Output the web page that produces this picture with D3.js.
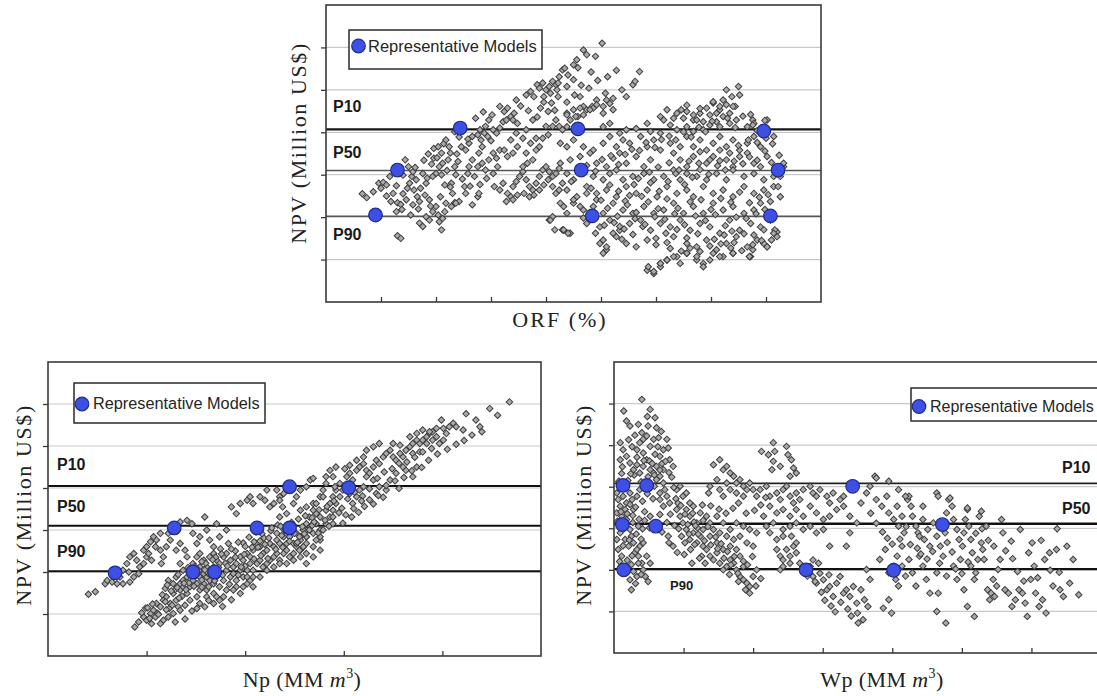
<!DOCTYPE html>
<html>
<head>
<meta charset="utf-8">
<script src="https://d3js.org/d3.v7.min.js"></script>
<style>
  body { margin: 0; background: #fff; }
  svg text { font-family: Arial, "Liberation Sans", sans-serif; }
  .serif { font-family: "Liberation Serif", "DejaVu Serif", serif; }
</style>
</head>
<body>
<div id="container"></div>
<script>
var width = 1097, height = 696;

// shared
var gridValues = [10, 20, 30, 40, 50, 60];
var pNames = ["P10", "P50", "P90"];
var legendText = "Representative Models";

// ---- ORF panel (top) ----
var orfTicks = [5, 10, 15, 20, 25, 30, 35, 40];
var orfLevels = [40.7, 31.0, 20.2];
var orfModels = [[12.2,41.0],[22.9,40.8],[39.8,40.3],[6.5,31.1],[23.2,31.1],[41.1,31.1],[4.5,20.5],[24.2,20.3],[40.4,20.3]];
var orfRuns = [
[3.3,25.5],[3.7,24.6],[4.8,28],[5.2,28.2],[5.5,27.6],[5.8,29.6],[5,26.8],[6.1,25.6],[5.9,23.7],[6.5,23.4],[6.4,21.3],[6.8,23],[7.3,24.1],[7,25.5],[7.4,26.8],[7.6,28],[7.8,29.6],[7.5,31.9],[7.2,33.5],[7.9,30.7],[8.2,28.8],[8,26.4],[8.3,24.8],[7.9,22.9],[8.5,23.7],[8.6,26.8],[9.1,28],[9,25.2],[9.4,24.1],[8.8,30.3],[9.2,29.2],[9.6,32.5],[9.8,33.9],[9.8,36.2],[10.2,36.6],[10.5,35.1],[10.7,37.3],[10.9,38.2],[11.2,36.6],[11.3,35.1],[11.1,33.5],[10.6,32.7],[10.3,31.9],[10,30.3],[9.7,29.6],[10.5,30],[10.8,27.6],[11.4,28],[11.5,25.6],[11.7,23.4],[12.1,23.7],[12.7,25.6],[12.6,27.2],[11.8,30],[11.7,31.9],[12,33.1],[12.3,36.6],[12.7,35.8],[13,37.4],[13.3,39],[13.8,39.4],[14.1,38.2],[14.4,39.8],[14.5,41.4],[14.8,42.9],[15.2,40.6],[15.5,39.8],[15.8,41],[16.1,42.5],[14.7,39],[14.2,36.6],[13.9,35.1],[13.3,33.5],[13,31.9],[12.9,30.3],[13.5,29.6],[13.8,31.9],[14.2,32.7],[14.5,31.1],[14.8,33.5],[15.2,35.1],[15.5,33.9],[15.8,35.8],[15.6,31.9],[15.2,30.3],[15.3,27.2],[15.8,26.4],[16.1,28],[16.5,25.6],[16.4,23.7],[16.8,24.8],[17,27.2],[17.3,28.4],[17.6,29.6],[17.9,30.7],[18.2,28.8],[18.5,27.2],[18.8,26.4],[19.1,28],[19.4,29.6],[19.7,31.1],[20,31.9],[20.3,30.7],[20.6,29.6],[20.9,30.3],[21.2,31.5],[17,24.1],[17.4,25.2],[18,25.6],[18.5,24.8],[18.9,25.2],[19.4,26.4],[19.8,27.6],[20.2,28.8],[20.6,27.2],[20.9,25.6],[21.2,26.4],[21.5,28],
[15.8,46.1],[16.2,44.9],[16.5,45.7],[16.8,43.7],[17,42.9],[17.1,44.5],[17.3,47.6],[17.4,42.1],[16.4,42.9],[18.2,48.8],[18.6,49.6],[18.9,48.4],[19.2,51.2],[19.4,50.4],[19.7,51.6],[20,50],[20.3,50.8],[19.5,45.7],[19.8,48.4],[20.6,52],[20.9,51.2],[21.2,53.1],[21.5,54.7],[21.1,48.4],[20.5,46.9],[20.2,44.9],[20.9,42.9],[20.6,41.4],[21.2,41.4],[21.5,40.6],[20.2,39.4],[19.7,38.6],[19.4,36.6],[19.1,35.8],[18.8,33.5],[18.3,32.7],[17.9,31.9],[18.2,35.1],[18.6,37.4],[19.1,38.6],[20,41.4],[18.8,42.9],[18.2,40.6],[17.9,38.6],[17.4,36.6],[17,35.1],[16.5,34.3],[16.2,35.8],[16.8,38.2],[17.3,39.8],
[6.5,15.6],[6.8,15],[8.5,18.6],[8.8,17.8],[9.1,20.1],[9.4,19.3],[9.7,21.3],[10,22.5],[10.2,20.5],[10.3,18.9],[10.5,17],[10.6,19.7],[10.8,21.3],[10.9,23.3],[11.4,22.5],[11.8,23.3],[13.3,22.9],[13.8,24.8],[13.9,25.6],[20.3,19.3],[20.6,20.1],[20.8,17],[21.5,17],
[23.4,59.4],[25.1,61],[24.5,57.9],[23.7,58.3],[22.8,57.1],[22.5,55.9],[21.7,55.1],[22,53.5],[22.5,52.4],[21.9,50.8],[21.1,51.6],[21,50],[20.4,49.2],
[28.5,54.3],[27.9,51.2],[28.1,52],[26.9,50],[27.3,48.4],[26.1,48],[25.5,47.6],[25.4,49.2],[24.6,47.6],[24.2,46.1],[25.2,46.1],[26.1,45.3],[23.7,45.3],[23.4,44.1],[22.9,43.7],[22.5,45.3],[22.2,42.9],[21.9,44.5],
[37.5,50.8],[37.6,48.8],[36.4,50],[36.9,48.4],[37.2,46.1],[36.1,47.6],[35.8,45.3],[35.2,46.9],[34.9,44.1],[34,44.5],[35.5,44.5],[32.8,44.9],[32.3,45.3],[31.6,43.3],[33.4,42.9],[34.3,42.5],[36.7,44.5],[38.8,42.9],
[23.4,46.1],[24.3,45.7],[25.2,44.5],[25.8,46.8],[30.4,43.7],[31,45.3],[31.9,44.5],[32.8,46.4],[33.4,44.1],[34,45.6],[34.6,45.7],[35.2,47.2],[35.8,46.1],[36.4,46.5],[37,46.1],[21.9,44.1],[22.7,43.7],[23.1,45.7],[24,45.3],[24.6,46.5],
[21.9,41.3],[25.2,41.3],[25.8,42.1],[26.7,39.8],[27.3,40.6],[28.2,40.9],[29.2,42.1],[29.5,40.2],[30.4,39.8],[30.7,42.9],[31.3,41.7],[31.9,40.6],[32.5,43.3],[32.8,41.3],[33.4,40.2],[33.7,42.9],[34.3,40.6],[34.9,41.7],[35.5,42.5],[36.1,43.7],[36.7,42.1],[37.3,42.9],[38.3,41.3],[38.9,42.1],[40.1,42.9],
[21.3,37.4],[21.9,36.6],[22.5,38.2],[23.4,36.6],[24.3,35.8],[25.2,37.4],[25.8,39],[26.4,36.6],[27,38.2],[27.6,37.4],[28.6,39],[29.2,36.6],[29.8,38.2],[30.4,35.8],[31.3,37.4],[32.2,36.6],[32.8,39],[33.4,36.6],[34,38.2],[34.6,35.8],[35.2,37.4],[35.8,39],[36.4,36.6],[37,38.2],[37.6,35.8],[38.3,37.4],[38.9,39],[39.5,36.6],[40.7,39],
[21.3,32.7],[22.2,33.5],[23.1,34.3],[24,35.1],[24.6,32.7],[25.5,31.9],[26.1,33.9],[26.7,35.1],[27.3,32.7],[28.2,34.3],[28.9,31.9],[29.5,33.5],[31.6,35.1],[32.2,33.5],[32.8,31.9],[33.4,34.3],[34,35.4],[34.6,32.7],[35.2,34.3],[35.8,35.8],[36.4,33.5],[37,31.9],[37.6,34.3],[38.3,35.1],[38.9,32.7],[39.5,31.9],[40.1,34.3],
[21.9,30.3],[22.5,28.8],[24.3,29.6],[25.2,28.8],[25.8,30.3],[26.4,31.1],[27,28.8],[27.9,29.6],[28.9,30.3],[29.8,28.8],[30.7,29.6],[31.6,31.1],[32.2,28.8],[32.8,30.3],[33.7,29.6],[34.6,28.8],[35.5,30.3],[36.4,28.8],[37,31.1],[38,29.6],[38.9,30.3],[39.8,28.8],[40.7,29.6],[41.6,31.9],
[21.9,26.4],[22.8,24.8],[23.7,27.2],[24.6,25.6],[25.5,26.4],[26.4,24.8],[27.3,27.2],[28.2,25.6],[29.2,26.4],[30.1,24.8],[31,27.2],[31.9,25.6],[32.8,26.4],[33.4,24.8],[34.3,27.2],[35.2,25.6],[36.1,26.4],[37,24.8],[38,27.2],[38.9,25.6],[39.8,26.4],[40.7,27.2],[41.3,24.8],
[21.6,22.5],[22.5,23.3],[23.4,21.7],[24.3,22.5],[25.2,20.9],[26.1,23.3],[27,21.7],[27.9,20.9],[28.9,22.5],[29.8,20.9],[30.7,21.7],[31.6,23.3],[32.5,20.9],[33.4,22.5],[34.3,20.9],[35.2,23.3],[36.1,21.7],[37,22.5],[38,20.9],[38.9,21.7],[39.5,23.3],
[21.6,16.9],[22.2,16.2],[23.7,18.5],[24.9,17.7],[25.8,19.3],[26.7,16.9],[27.6,18.5],[28.6,19.3],[29.5,16.9],[30.4,18.5],[31.3,17.7],[32.2,19.3],[33.1,16.9],[34,18.5],[34.9,17.7],[35.8,16.2],[36.7,19.3],[37.6,16.9],[38.6,18.5],[39.5,17.7],[40.4,19.3],[41,16.5],
[24.9,13.8],[25.5,12.3],[26.4,15.4],[27.3,13.8],[28.2,13],[29.2,14.6],[31.6,15.4],[32.8,13.8],[33.7,13],[34.6,14.6],[35.5,12.3],[36.4,13.8],[37.3,15.4],[38.3,13],[39.2,14.6],[40.1,13],[41,15.4],
[25.2,11.5],[30.4,9.1],[31,9.9],[31.9,10.7],[32.8,11.5],[33.7,9.9],[34.3,9.1],[35.2,11.5],[36.1,10.7],[37,11.5],[38.6,10.7],[29.2,7.5],[29.8,6.7],[30.4,8.3],
[41.6,32.7],[41.3,29.6],[41.1,27.2],[40.4,23.7],[40.8,17],[40.5,14.6],[40.1,13],[39.8,17],[38.5,10.7],[39.9,42.8],[38.8,41.7],
[29.3,8.3],[29.8,7.2],[30.4,9.1],[31,9.9],[31.6,10.7],[32.2,9.1],[32.8,11.5],[33.7,10.7],[34.3,8.3],[34.9,9.9],[35.8,10.7],[37,11.5],[38.5,10.7],[38.8,12.3],[39.8,13.8],[40.7,16.2],
[20.4,19.3],[21.6,17],[22,16.2],[21.3,23.3],[21.9,20.9],[22.5,24.1],[23.1,22.5],[23.7,25.6],[24.6,24.1],[25.2,14.6],[25.5,13],[26.1,16.2],[26.7,17.8],
[22.3,28.4],[23,30.9],[23.7,32.2],[24.5,30.8],[25.1,33.6],[25.9,34.5],[26.6,32.4],[27.2,34.8],[27.8,36],[28.5,35.7],[29.1,37.6],[29.9,36.4],[30.5,38.3],[31.2,39.1],[31.8,38.2],[32.5,40.1],[33.2,38.9],[33.9,41.2],[34.5,40.1],[35.1,42.6],[35.8,41.3],[36.5,43.3],[37.2,41.1],[37.9,43.8],[38.6,44.2],[39.2,40.4],
[24.1,26.8],[25,24],[25.8,27.6],[26.6,26.1],[27.2,23.8],[28,27.7],[28.7,24.9],[29.5,28.1],[30.3,26.1],[31.1,28.4],[31.8,30.3],[32.6,27.7],[33.3,29.4],[34,31.2],[34.8,30.1],[35.6,32.1],[36.3,31.1],[37.1,33.2],[37.9,32.6],[38.5,34.2],[39.2,33.4],[39.9,35.6],[40.5,32.9],[41.2,34.6],
[23.4,19.8],[24.4,20.4],[25.6,22.1],[26.5,20.2],[27.4,22.9],[28.2,21.1],[29.3,23.6],[30.2,22],[31,24.3],[32,22.1],[33.1,23.6],[34.1,24.1],[35,21.8],[35.9,24.4],[36.8,23.5],[37.6,25.9],[38.5,23.4],[39.4,24.7],[40.2,25.3],
[26.9,14.8],[27.9,15.9],[28.8,17.8],[30,15],[30.9,16.2],[31.9,17.1],[32.8,15.1],[33.8,16.1],[35.3,14.8],[36.2,15.8],[37.1,14],[38,16.1],[38.9,15.8],[39.6,14.5],[31.3,12.6],[32.3,12],[33.1,12.7],[34.9,13.2],[36.8,12.7],[37.8,12.1],
[23.1,48.4],[23.9,50.4],[24.7,52.2],[25.6,53.1],[26.4,54.6],[24.1,54.2],[22.9,55.2],[23.2,51.1],[21.9,47.1],[22.6,48.8],[20.8,45.2],[19.2,43.6],[18.4,45.1],[17.7,46.2],[19.8,47.1],[15,38],[14,40.6],[12.9,38.4],[12.1,38.9],[11.7,40.1],[13.6,43.3],[15.1,44.1],[14.3,44.8],
[24.5,16.2],[25.3,18.1],[26.2,18.7],[27.1,17.2],[28.1,19.6],[29,18.3],[29.9,20.1],[30.8,19.5],[31.7,20.8],[32.6,18.2],[33.6,20.3],[34.5,19.2],[35.4,20.6],[36.3,18],[37.3,20],[38.2,19.7],[39.1,20.8],[39.9,21.8],[27.6,25.1],[28.4,29.1],[29.4,30.6],[30.2,31.8],[31.2,32.8],[32.1,31.1],[33,33.2],[33.9,32.7],[34.9,33.5],[35.8,33.3],[36.7,35.1],[37.5,36.9],[38.4,38.2],[39.2,37.6],[40,38.6],[40.6,37.3],[30,13.5],[31,14],[34,11.9],[35.9,13.7],[36.9,16.7],[38.8,13.5],
[4.3,26],[5.5,25],[6.4,27.4],[7,29.9],[8.1,31.7],[8.9,33.4],[9.3,34.9],[10.1,34],[11,31],[11.9,34.9],[6.9,21.8],[7.7,20.5],[8.4,21.9],[9.5,22.6],[10.4,24.8],[11.3,27.1],[12.4,29],[13.1,27.3],[14,27.7],[14.6,29.1]
];

// ---- Np panel (bottom left) ----
var npTicks = [10, 20, 30, 40];
var npLevels = [40.5, 31.0, 20.2];
var npModels = [[6.8,19.8],[12.8,30.5],[14.7,20.0],[16.9,20.0],[21.2,30.5],[24.5,30.5],[24.5,40.3],[30.5,40.1]];
var npRuns = [
[4.1,14.7],[4.8,15.3],[5.8,17.2],[6,18],[6.6,18.8],[7,19.2],[7.6,20.4],[8,22],[8.3,23.6],[8.7,24.4],[9,22.8],[9.3,21.2],[9.2,19.6],[9.7,25.2],[10,26],[10.4,27.2],[10.7,28.4],[11,27.6],[11.4,25.2],[11.7,23.6],[11.5,22],[12,26],[12.4,27.6],[12.2,29.2],[11.4,29.2],[10.9,26],[10,23.6],[9.7,22],[8.7,18.8],[8.3,17.6],[7.6,17.2],[7.3,18.8],[7,17.2],[6.5,17.6],[8.2,20],[10.2,24.4],[10.5,22.8],
[13.4,31.9],[14.1,32.3],[14.6,31.5],[14.7,29.2],[15.1,26.8],[15.4,28.4],[15.9,33.1],[16.1,30],[16.4,27.6],[16.8,26],[17.1,31.5],[17.4,28.4],[18.1,30],[18.6,35.5],[19.1,33.9],[19.5,36.3],[20.2,37.1],[20.5,37.9],[20.8,36.3],[21.5,37.9],[22,37.1],[22.2,39.5],[22.5,35.5],[22.9,36.3],[23.2,39.5],[23.5,37.9],[23.9,38.7],[25.2,37.9],[25.6,39.5],[26.2,40.3],[26.6,41.9],[26.9,42.3],[24.9,36.3],[25.6,34.7],[26.2,35.5],[26.9,36.3],[27.2,33.9],[26.9,31.5],[26.2,30],[25.6,28.4],
[8.8,6.9],[9.2,8.1],[9.7,9.3],[10,8.5],[10.4,10.1],[10.7,10.9],[11,12.5],[11.4,11.7],[10.9,9.3],[11.7,13.3],[12,14.1],[12.4,12.5],[12.7,14.9],[13,13.3],[13.4,15.7],[13.7,16.5],[13.2,11.7],[12.7,10.1],[12.2,9.3],[11.7,8.5],[11.4,7.7],[10.5,7.7],[14.1,14.9],[14.4,16.5],[14.7,18],[15.1,17.2],[15.4,18.8],[15.8,17.2],[16.1,15.7],[16.4,18],[16.8,17.2],[17.1,18.8],[17.4,16.5],[17.8,18],[15.4,15.7],[15.1,14.1],[14.4,13.3],[13.9,12.1],[13.4,10.9],
[14.7,22],[15.1,23.6],[15.4,24.4],[15.8,22.8],[16.1,21.2],[16.4,23.6],[16.8,24.4],[17.1,22.8],[17.4,22],[17.8,23.6],[18.1,24.4],[18.5,22.8],[18.8,21.2],[19.1,22],[19.5,23.6],[19.8,22.8],[20.2,24.4],[20.5,23.6],[20.8,25.2],[21.2,26.8],[21.5,26],[21.8,24.4],[22.2,25.2],[22.5,26.8],[22.9,26],[23.2,27.6],[23.5,26.8],[23.9,28.4],[24.2,26.8],[24.5,28.4],[24.9,26.8],[25.2,29.2],[25.6,27.6],[25.9,30],[26.2,28.4],[26.6,30.7],[26.9,29.2],[27.2,31.5],[27.6,30],
[18.1,20.4],[18.5,18.8],[18.8,19.6],[19.1,18],[19.5,20.4],[19.8,18.8],[20.2,20.4],[20.5,22],[20.8,20.4],[21.2,22],[21.5,22.8],[21.8,21.2],[22.2,22],[22.5,22.8],[22.9,23.6],[23.2,24.4],[23.5,22.8],[23.9,24.4],[24.2,25.2],[24.5,23.6],[24.9,24.4],[25.2,26],[25.6,25.2],[25.9,26],[26.2,26.8],
[14.4,20.4],[14.1,18.8],[13.7,18],[15.4,21.2],[15.8,19.6],[16.4,20.4],[16.8,21.2],[17.1,20.4],[17.4,19.6],[16.1,18.8],[19.1,16.5],[19.5,14.9],[19.8,16.5],[20.2,17.2],[20.5,18],[20.8,16.5],[18.8,15.7],[17.8,14.1],[18.1,15.7],[17.4,13.3],[16.8,12.5],[16.1,14.1],[15.9,11.7],[15.4,12.5],[15.1,11.3],[16.3,16.5],[16.8,14.9],[17.1,14.1],
[20.2,18.8],[20.8,18.8],[21.5,18.8],[22.2,20.4],[22.9,21.2],[23.5,22],[24.2,22],[24.9,22.8],[25.6,23.6],[26.2,24.4],[26.9,26],[27.6,27.6],[26.9,23.6],[26.2,22],[27.6,25.2],
[13,25.2],[13.4,26.8],[13.9,25.2],[14.1,23.6],[13.4,22],[13.7,20.4],[13,18.8],[12.7,17.2],[13.4,17.2],
[23.5,37.1],[23.8,35.5],[24.2,33.9],[23.5,33.1],[24,30.7],[24.5,28.4],[25,29.2],[25.5,28.4],[25.2,26.8],[25.9,30],[26.2,31.5],[26.5,33.1],[26.9,34.7],[27.2,36.3],[27.6,37.9],[27.9,39.5],[28.2,41.1],[26.9,31.5],[27.6,33.1],[28.2,34.7],[28.6,36.3],[28.9,37.9],[29.2,39.5],[29.6,41.1],[30.3,42.7],[30.6,43.5],[30.9,41.9],[31.3,44.2],[31.6,45],[32,45.8],[32.3,44.2],[32.6,43.5],[33,45],[33.3,46.6],[33.6,45.8],[34,47.4],[34.3,48.2],[34.7,49],[35,47.4],[35.3,46.6],[35.7,48.2],[36,47.4],[36.3,49],[36.7,49.8],[37,50.6],[37.4,51.4],[37.7,50.6],[38,51.4],[38.4,52.2],[38.7,53],[39,51.4],[39.4,52.2],[39.7,50.6],[40.1,51.4],[40.4,53],[40.7,54.6],[41.1,55.4],[41.4,54.6],[42.1,53.8],[42.4,57.7],[43.4,56.2],[43.8,54.6],[44.8,58.9],[45.6,57.3],[46.8,60.5],[39.9,56.2],[40.1,54.2],[39,53.4],[38.4,50.6],[37.7,48.6],[37,48.2],[37.4,45],[37,42.7],[36.3,44.2],[36,45],[35.3,43.5],[34.7,41.9],[34.3,39.5],[33.6,40.3],[33.3,38.7],[33,41.9],[32.3,42.7],[32,40.3],[31.6,39.5],[31.3,37.9],[30.9,36.3],[30.6,38.7],[29.9,39.5],[29.6,37.9],[29.2,36.3],[28.9,34.7],[28.6,33.1],[28.2,31.5],[27.9,30],[27.6,28.4],[27.2,27.6],[26.5,30],[26.2,28.4],[25.9,26],[25.5,25.2],[28.9,31.5],[29.1,40.3],[28.6,44.2],[29.2,45],[30.1,44.6],[30.6,45.4],[31.3,46.6],[32,47.4],[32.3,49],[33,49.8],[33.6,50.6],[35,50.6],[35.7,50.2],[36.7,52.2],[37.4,53],[38,53.8],[38.7,53.4],[39.4,54.2],[28.2,42.7],[28.9,42.7],[27.9,37.9],
[17.5,25.5],[18.3,26.8],[19,25],[19.8,26.9],[20.4,28.3],[21.1,29.5],[21.9,28.1],[22.6,29.8],[23.3,31.2],[24,29.9],[24.7,31.8],[25.4,32.6],[26.1,33.4],[26.8,32.9],[27.5,34.8],[28.3,35.6],[29,36.9],[29.8,35.2],[30.4,37.4],[31.1,39],[31.9,38.1],[32.6,39.8],[33.4,42.3],[34.1,43.8],[34.9,44.6],[35.6,45.9],[36.4,46.2],[37.2,47.3],[38,48.6],[38.9,49.4],
[16.2,19.8],[16.9,17.9],[17.7,19.3],[18.4,17.1],[19.3,19.3],[20,21.4],[20.9,23.1],[21.6,23.9],[22.3,23.2],[23.1,25.4],[23.8,25.9],[24.5,27.3],[25.3,27.1],[26,29.1],[26.8,31.1],[27.4,29.3],[28.1,32.3],[28.9,33.1],[29.5,34.1],[30.2,33.6],[31,35.1],[31.8,36.9],[32.6,37.2],[33.5,38.2],[34.3,40.6],[35.2,41.7],[36.1,42.5],[36.9,44.1],
[12.3,11.3],[12.9,15.8],[13.6,14.2],[14.3,17.4],[15,19.1],[15.6,16.4],[14.9,21.3],[15.9,20.5],[17,23.5],[18,22.1],[19.6,21.2],[21.3,25.9],[22,26.6],[23.7,28.7],[25.8,30.8],[27,31.9],[28.5,30.9],[29.9,31.6],[30.8,33.1],[31.5,34.2],[32.1,35.6],[33,36.2],[34,37.8],[35.6,39.9],[37.9,44.9],[38.6,46.6],[39.5,48.1],[40.5,49.2],[41.4,50.4],[42.2,51.3],[43,52.6],[44,53.4],
[11.1,10.2],[10.6,12.4],[11.9,16.1],[12.2,18],[9.9,11.4],[14.6,10.7],[13.9,8.8],[12.9,8.1],[16.3,13.2],[17.7,11.8],[18.6,13.4],
[9.5,10.3],[10.3,9],[11.2,9.9],[12,11],[12.6,12.1],[13.3,13.8],[14,15.8],[14.8,16.6],[15.6,18.1],[16.4,19.4],[17.3,21.1],[18.2,21.4],[19,23.5],[19.9,24.2],[20.7,25.9],[21.5,27.4],[22.4,28.1],[23.2,29.2],[24.1,30.2],[24.9,31.2],[11.9,12.9],[12.5,15.5],[13.1,16.3],[13.8,17.3],[14.5,19.6],[15.3,20.3],[16,22.1],[16.7,22.9],[17.6,24.3],[18.6,25.5],[19.3,27.1],[20,26.1],[20.9,27.2],[21.7,29.1],[22.7,30.5],[23.6,30.9],[10.1,11.5],[11.6,14.6],[12.1,16.9],[13.2,19.4],[14.2,21.1],[15.6,22.5]
];

// ---- Wp panel (bottom right) ----
var wpTicks = [10, 20, 30, 40, 50, 60];
var wpLevels = [40.8, 31.1, 20.2];
var wpModels = [[1.3,40.3],[4.7,40.3],[34.3,40.1],[1.2,30.9],[6.0,30.5],[47.2,30.9],[1.4,20.0],[27.6,20.0],[40.2,19.9]];
var wpRuns = [
[4,61],[1.4,58.2],[1.8,55.8],[2.3,54.6],[3.5,55],[4,53],[4.2,51.4],[4.7,52.2],[3.7,50.6],[3.3,48.9],[4.2,48.1],[5.2,49.7],[5.7,51.4],[4.9,54.6],[5.2,58.6],[5.9,56.6],[6.1,54.2],[6.4,51.8],[0.9,50.6],[1.3,48.9],[0.9,46.5],[1.8,47.3],[2.3,45.7],[2.8,44.1],[3.3,45.3],[3.7,43.3],[4.2,44.9],[4.7,46.5],[5.2,44.1],[5.7,43.3],[6.1,44.9],[6.6,47.3],[7.1,48.9],[7.6,51.4],[7.8,49.3],[8,46.5],[8.5,44.9],[7.1,44.1],[6.6,42.5],[6.1,41.7],[7.1,40.9],[7.3,39.3],[6.6,38.5],[7.6,37.7],[8,36.1],[7.1,35.3],[6.6,36.9],[0.4,38.5],[0.6,36.9],[0.9,35.3],[0.4,33.7],[1.1,32.9],[1.6,34.5],[1.8,36.1],[1.3,37.7],[2.3,38.5],[3.3,37.7],[3.7,39.3],[2.3,35.7],[2.8,34.5],[1.8,32.1],[2.3,29.7],[0.9,28.9],[1.6,27.3],[2.1,25.7],[2.5,28.1],[2.8,26.5],[3,24.1],[3.5,23.3],[4,21.6],[4.2,20],[4.5,18.4],[4.9,17.2],[3.3,18.4],[2.8,19.6],[2.3,17.6],[2.5,15.2],[3.5,21.6],[3.7,25.7],[0.6,24.9],[0.4,27.3],[1.1,23.3],[4.2,26.5],[4.7,23.3],[5.2,21.6],[5.2,32.9],[7.8,28.1],[8.5,25.7],
[9,39.3],[9.5,40.1],[9.9,37.7],[10.4,38.5],[10.9,36.1],[9,34.5],[9.5,32.9],[9.9,31.3],[10.4,29.7],[9.7,28.1],[10.2,26.5],[10.9,27.3],[11.4,28.9],[11.9,26.5],[12.4,28.1],[12.8,25.7],[13.3,24.9],[13.8,23.3],[14.3,22.4],[14.8,24.1],[15.2,21.6],[15.7,20],[16.2,20.8],[16.7,22.4],[17.2,21.6],[17.6,20],[18.1,18.4],[18.6,17.6],[19.1,16.8],[19.5,16],[20,18.4],[20.5,20],[19.5,14.4],[18.6,20.8],[18.1,23.3],[17.6,24.9],[16.7,25.7],[15.7,24.9],[14.8,26.5],[13.8,28.1],[12.8,29.7],[11.9,31.3],[10.9,32.9],[10.4,34.5],[11.4,35.3],[12.4,33.7],[13.3,32.9],[13.8,31.3],[14.3,29.7],[15.2,28.9],[16.2,28.1],[17.2,27.3],[18.1,28.1],[19.1,26.5],[20,25.7],[20.5,28.9],[19.5,29.7],[18.6,30.5],[17.6,31.3],[16.7,29.7],[15.7,31.3],[14.8,32.9],[11.2,21.6],[12.6,23.3],
[14.3,45.3],[15.2,46.5],[15.7,44.1],[16.2,44.9],[16.7,43.3],[17.2,42.5],[17.6,40.9],[18.1,41.7],[18.6,40.1],[19.1,39.3],[19.5,40.9],[20,39.3],[20.5,37.7],[18.6,37.7],[17.6,38.5],[16.7,39.3],[15.7,37.7],[16.2,40.9],[15.2,39.3],[14.8,41.7],[13.8,40.1],[13.6,38.5],[17.9,36.1],
[21.2,48.5],[22.2,47.7],[22.9,50.6],[23.1,48.5],[22.9,46.1],[22.7,44.1],[24.8,49.7],[25,47.7],[25.5,46.5],[25.8,44.5],[26.2,43.3],[25.3,42.5],[23.9,44.9],
[21,39.3],[21.9,40.1],[22.4,37.7],[23.4,38.5],[23.9,36.9],[24.3,39.3],[24.8,40.1],[25.3,37.7],[25.8,36.1],[26.2,38.5],[26.7,36.9],[27.2,39.3],[28.2,40.1],[28.6,38.5],[29.1,37.7],[29.6,39.3],[30.6,37.7],[31,36.1],[31.5,38.5],[32.5,36.9],[33,37.7],
[22.4,35.3],[23.4,33.7],[24.3,34.5],[25.3,32.9],[26.2,34.5],[27.2,32.9],[28.2,35.3],[29.1,33.7],[30.1,32.1],[31,32.9],[32,34.5],[33,35.3],[33.9,32.9],[34.9,31.3],
[21.5,32.9],[22.9,31.3],[24.3,29.7],[25.3,30.5],[26.2,31.3],[27.2,29.7],[28.2,30.5],[29.1,28.9],[30.1,29.7],[31,25.7],[33.4,25.7],[33.9,28.9],[22.4,28.9],[21.9,30.5],[23.4,27.3],[24.3,28.1],[25.5,28.1],
[23.4,24.9],[23.9,23.3],[24.3,22.4],[24.8,24.9],[25.3,23.3],[25.8,25.7],[26.2,24.1],[26.7,21.6],[27.2,20],[28.2,20.8],[28.6,18.4],[29.1,16.8],[29.6,19.2],[30.1,17.6],[30.6,15.2],[31,16],[31.5,13.6],[32,16.8],[32.5,18.4],[33,14.4],[33.4,15.2],[33.9,13.6],[34.4,16],[34.9,12],[35.1,7.2],[23.9,20],[24.3,20.8],[25.3,21.6],[26.2,26.5],
[35.5,36.1],[36.3,38.5],[36.8,40.1],[37.5,42.5],[37.7,36.9],[38.5,35.3],[39.2,37.7],[39.5,33.7],[40.2,32.1],[40.7,35.3],[40.9,30.5],[41.4,32.9],[41.7,28.9],[42.2,36.9],[42.4,37.7],[42.7,35.3],[42.9,32.9],[43.4,30.5],[43.7,28.9],[43.9,28.1],[44.4,32.1],[44.6,27.3],[45.1,29.7],[45.4,25.7],[45.9,31.3],[46.4,28.1],[46.4,38.5],[46.6,14.4],[46.9,25.7],[47.3,23.3],[47.6,28.9],[47.8,33.7],[48.1,36.9],[48.3,37.3],[48.6,35.3],[48.8,32.1],[49.3,29.7],[49.6,27.3],[49.8,22.5],[50.1,25.7],[50.3,28.9],[50.5,32.1],[50.8,34.5],[51,30.5],[51.3,20.9],[51.3,27.3],[51.5,24.1],[51.8,17.7],[52,19.3],[52.3,22.5],[52.5,32.9],[52.8,26.5],[53,24.9],[53.2,22.5],[53.5,30.5],[53.7,15.2],[54,12.8],[54.2,14.4],[54.5,17.7],[54.7,13.6],[55,16.1],[55.2,20.1],[55.5,22.5],[55.7,32.1],[55.9,28.9],[56.2,15.2],[56.7,14.4],[57.2,11.2],[57.7,12.8],[58.2,15.2],[58.4,29.7],[58.7,14.4],[59.1,12],[59.4,8.8],[59.6,24.1],[59.9,17.7],[60.1,26.5],[60.4,20.9],[60.6,14.4],[61.1,11.2],[61.6,12.8],[61.9,22.5],[62.1,9.6],[62.6,24.1],[63.1,16.1],[63.6,24.9],[64.1,15.2],[64.6,13.6],[65.1,25.7],[66,22.5],[66.8,14],
[47.7,7.2],[46.4,10],[51.8,8.8],[50.8,11.2],[38.2,22.5],[39.5,19.3],[40.2,20.9],[40.5,17.7],[40.9,16.1],[41.4,20.9],[41.9,18.5],[39.5,12.8],[38.7,10.8],[39.9,9.6],[36.3,20.1],[36.8,17.7],[35.5,15.2],[36,12.8],[35,9.6],[35.8,8],[36.5,11.2],[39,24.9],[42.4,22.5],[42.9,19.3],[44.4,20.9],[44.9,17.7],[43.4,16.1],[45.4,14.4],[46.4,19.3],[47.8,18.5],[48.8,20.9],[50.3,15.2],[49.3,17.7],[41.4,25.7],[40.7,23.3],[43.9,23.3],
[37.7,42.1],[39.5,41.3],[40.9,39.3],[41.9,37.7],[44.4,35.3],[46.6,37.7],[50.8,34.9],[52.8,34.1],
[1.1,43.2],[2,41.5],[2.9,42.8],[3.9,41.2],[4.9,42.4],[5.8,40.1],[0.7,41.3],[1.5,39.6],[2.6,36.9],[3.1,35.1],[4.1,36.5],[4.8,38.3],[5.6,37.1],[4.4,34],[3.6,32.2],[2.7,31.4],[1.5,30],[2.2,27.2],[3.2,28.6],[4.1,29.9],[3.9,27.4],[1.3,25.8],[1.9,22.3],[2.6,23.4],[1.8,19.4],[3.9,18.9],[3.1,16.7],[5.1,46.2],[5.9,47.8],[6.9,45.6],[2.6,49.6],[3,52.4],[2.1,51.3],[4.8,56.9],[6.8,53.3],[7.4,46.1],[8.3,42.3],[8.9,37.1],[9.2,36],[8.1,33.4],[8.7,30.7],[9.3,29.9],[7.6,31.4],[6.6,33.3],[6.9,29.1],[7.9,26.5],[9.1,24.2],[10.1,23.7],[11,24.9],[11.6,26.1],[12.3,22.8],[13.1,21.6],[12,30.1],[12.8,31.9],[13.5,30.4],[14.6,27.9],[15.4,26.3],[16.3,24.4],[17.3,23.2],[18.6,22.1],[19.2,21.2],[19.9,23.2],[16.6,18.9],[17.9,17.2],[18.9,15.2],[20.4,16.1],[21.1,17.9],
[10.6,30.9],[11.3,33.6],[12.7,35.6],[13.9,35.4],[15.1,34.6],[16.1,33.6],[17.1,34.8],[19,33.6],[20.2,34.3],[21.1,35.6],[21.8,37.4],
[28.9,17.2],[29.8,14.6],[30.3,12.7],[31.2,11.3],[31.8,9.9],[32.6,12.2],[33.6,10.6],[34.1,8.9],[30.9,18.8],[29.4,21.6],[28.6,22.4],[27.8,18.5],
[36.9,33.6],[37.7,31.2],[38.6,29.1],[39.3,27.6],[40,26.2],[41.1,27.4],[42,30.4],[42.6,26.1],[43.6,25.2],[44.1,23.8],[45,22.6],[45.8,24.4],[46.8,21.6],[47.9,26.6],[48.6,24.3],[49.1,20.2],[50,19.1],[50.9,21.9],[52,28.8],[52.9,29.9],[53.8,27.1],[54.6,25.7],[56.3,24.6],[57.3,22.7],[58,19.6],[58.9,17.3],[60.9,18.1],[62.7,19.9],[64,19.4],[65.5,16.8],[57.1,26.9],[61.4,27.1],[63.7,29.9],
[0.5,31.7],[1,34],[1.9,33.5],[2.7,33.1],[3.5,30.5],[4.4,31.9],[5.1,30.1],[0.8,22],[1.3,20.8],[2.5,21.3],[3.3,24.9],[1.2,44.8],[2.4,43.1],[3.3,47.1],[4.3,46.3],[5.5,45.6],[6.3,49.6],[6.6,44],[5.8,42.8],[7.9,43.4],[8.6,39.8],[9.6,35.5],[10.2,33.4],[11.5,31.5],[12.1,28.6],[13,27],[13.9,26],[14.9,25.1],[15.8,22.8],[16.8,21.2],[17.8,19.2],[10.8,28.6],[11.7,30.6]
];

var svg = d3.select("#container").append("svg")
    .attr("width", width)
    .attr("height", height)
    .style("display", "block")
    .style("background", "#fff");

var panels = [
  { id: "orf", runs: orfRuns, models: orfModels, levels: orfLevels, ticks: orfTicks,
    xMax: 45, box: { l: 326, r: 821, t: 5, b: 302 },
    levelWidth: [2.3, 1.6, 1.6], levelColor: ["#151515", "#555", "#555"],
    labels: [[333, 112, 16], [333, 158, 16], [333, 240, 16]],
    legend: { x: 349, y: 30, w: 193, h: 39, cx: 358.5, cy: 46, tx: 368, ty: 52, fs: 16.5 },
    xlabel: { x: 560, y: 327, ls: 2, parts: [["ORF (%)", null]] },
    ylabel: { x: 306, y: 143 } },
  { id: "np", runs: npRuns, models: npModels, levels: npLevels, ticks: npTicks,
    xMax: 50, box: { l: 48, r: 541, t: 362, b: 656 },
    levelWidth: [2, 2, 2], levelColor: ["#111", "#111", "#111"],
    labels: [[57, 470, 16], [57, 512, 16], [57, 557, 16]],
    legend: { x: 74, y: 383, w: 191, h: 40, cx: 82, cy: 404, tx: 93, ty: 409, fs: 16.3 },
    xlabel: { x: 302, y: 687, ls: 0.4, parts: [["Np (MM ", null], ["m", "italic"], ["3", "sup"], [")", null]] },
    ylabel: { x: 31, y: 505 } },
  { id: "wp", runs: wpRuns, models: wpModels, levels: wpLevels, ticks: wpTicks,
    xMax: 70, box: { l: 614, r: 1101, t: 362, b: 653 },
    levelWidth: [1.6, 2.6, 2.2], levelColor: ["#222", "#111", "#111"],
    labels: [[1062, 473, 16], [1062, 514, 16], [670, 590, 13]],
    legend: { x: 911, y: 388, w: 195, h: 33, cx: 919, cy: 406.5, tx: 930, ty: 412, fs: 16 },
    xlabel: { x: 882, y: 687, ls: 0.4, parts: [["Wp (MM ", null], ["m", "italic"], ["3", "sup"], [")", null]] },
    ylabel: { x: 591, y: 505 } }
];

var diamond = d3.symbol().type(d3.symbolSquare).size(21);

panels.forEach(function(p) {
  var b = p.box;
  var x = d3.scaleLinear().domain([0, p.xMax]).range([b.l, b.r]);
  var y = d3.scaleLinear().domain([0, 70]).range([b.b, b.t]);

  svg.append("clipPath").attr("id", "clip-" + p.id)
    .append("rect").attr("x", b.l).attr("y", b.t)
    .attr("width", b.r - b.l).attr("height", b.b - b.t);

  var g = svg.append("g").attr("clip-path", "url(#clip-" + p.id + ")");

  // grid lines
  g.selectAll(".grid").data(gridValues).enter().append("line")
    .attr("x1", b.l).attr("x2", b.r)
    .attr("y1", function(d) { return y(d); })
    .attr("y2", function(d) { return y(d); })
    .attr("stroke", "#c9c9c9").attr("stroke-width", 1.2);

  // P10 / P50 / P90 lines
  g.selectAll(".plevel").data(p.levels).enter().append("line")
    .attr("x1", b.l).attr("x2", b.r)
    .attr("y1", function(d) { return y(d); })
    .attr("y2", function(d) { return y(d); })
    .attr("stroke", function(d, i) { return p.levelColor[i]; })
    .attr("stroke-width", function(d, i) { return p.levelWidth[i]; });

  // all simulation runs
  g.selectAll(".run").data(p.runs).enter().append("path")
    .attr("d", diamond)
    .attr("transform", function(d) { return "translate(" + x(d[0]) + "," + y(d[1]) + ") rotate(45)"; })
    .attr("fill", "#ababab")
    .attr("stroke", "#3d3d3d")
    .attr("stroke-width", 1);

  // representative models
  g.selectAll(".model").data(p.models).enter().append("circle")
    .attr("cx", function(d) { return x(d[0]); })
    .attr("cy", function(d) { return y(d[1]); })
    .attr("r", 6.8)
    .attr("fill", "#3e50e4")
    .attr("stroke", "#1f2b8c")
    .attr("stroke-width", 1.2);

  // P labels
  svg.selectAll(null).data(pNames).enter().append("text")
    .attr("x", function(d, i) { return p.labels[i][0]; })
    .attr("y", function(d, i) { return p.labels[i][1]; })
    .attr("font-size", function(d, i) { return p.labels[i][2]; })
    .attr("font-weight", "bold")
    .attr("fill", "#1a1a1a")
    .text(function(d) { return d; });

  // legend
  var L = p.legend;
  svg.append("rect").attr("x", L.x).attr("y", L.y).attr("width", L.w).attr("height", L.h)
    .attr("fill", "#fff").attr("stroke", "#2a2a2a").attr("stroke-width", 1.5);
  svg.append("circle").attr("cx", L.cx).attr("cy", L.cy).attr("r", 6.8)
    .attr("fill", "#3e50e4").attr("stroke", "#1f2b8c").attr("stroke-width", 1.2);
  svg.append("text").attr("x", L.tx).attr("y", L.ty).attr("font-size", L.fs)
    .attr("fill", "#262626").text(legendText);

  // frame
  svg.append("rect").attr("x", b.l).attr("y", b.t)
    .attr("width", b.r - b.l).attr("height", b.b - b.t)
    .attr("fill", "none").attr("stroke", "#3a3a3a").attr("stroke-width", 1.6);

  // axes (ticks only, no labels in the original)
  var xa = svg.append("g").attr("transform", "translate(0," + b.b + ")")
    .call(d3.axisBottom(x).tickValues(p.ticks).tickSize(-5).tickFormat(""));
  var ya = svg.append("g").attr("transform", "translate(" + b.l + ",0)")
    .call(d3.axisLeft(y).tickValues(gridValues).tickSize(5).tickFormat(""));
  [xa, ya].forEach(function(a) {
    a.select(".domain").remove();
    a.selectAll(".tick line").attr("stroke", "#3a3a3a").attr("stroke-width", 1.3);
  });

  // x label
  var xt = svg.append("text").attr("class", "serif")
    .attr("x", p.xlabel.x).attr("y", p.xlabel.y)
    .attr("text-anchor", "middle").attr("font-size", 22)
    .attr("letter-spacing", p.xlabel.ls).attr("fill", "#222");
  p.xlabel.parts.forEach(function(part) {
    var t = xt.append("tspan").text(part[0]);
    if (part[1] === "italic") t.attr("font-style", "italic");
    if (part[1] === "sup") t.attr("font-size", 14).attr("dy", -9);
    if (part[0] === ")") t.attr("dy", 9);
  });

  // y label
  svg.append("text").attr("class", "serif")
    .attr("transform", "translate(" + p.ylabel.x + "," + p.ylabel.y + ") rotate(-90)")
    .attr("text-anchor", "middle").attr("font-size", 22)
    .attr("letter-spacing", 1.6).attr("fill", "#222")
    .text("NPV (Million US$)");
});
</script>
</body>
</html>
